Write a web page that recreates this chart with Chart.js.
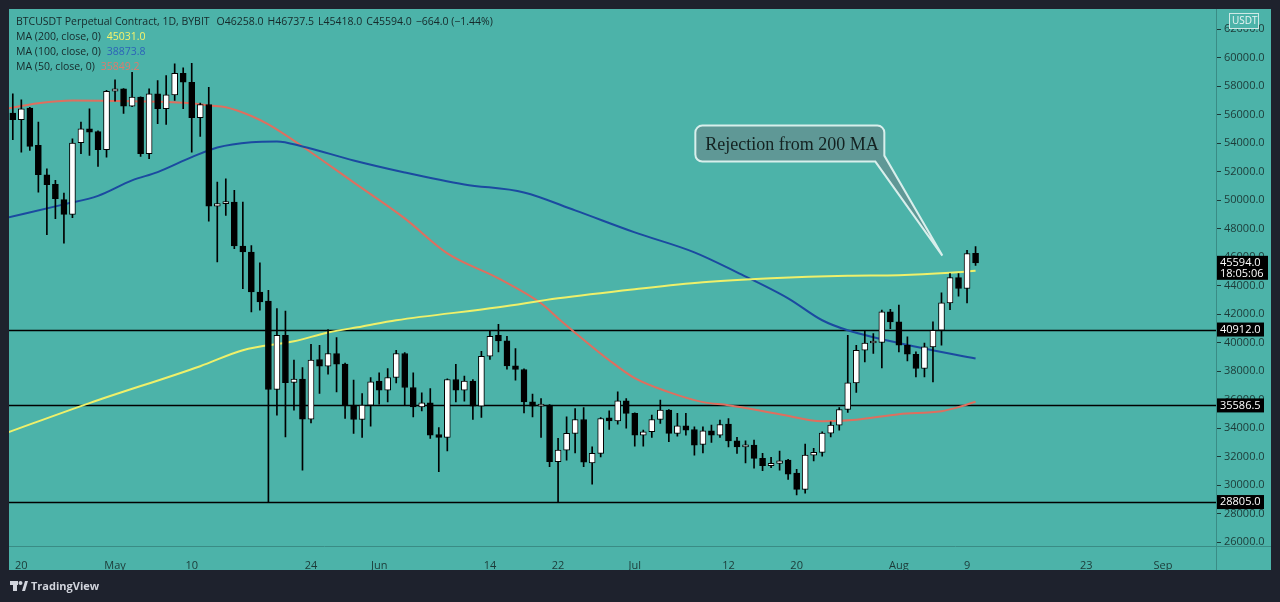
<!DOCTYPE html>
<html>
<head>
<meta charset="utf-8">
<script src="https://cdn.jsdelivr.net/npm/chart.js@4.4.0/dist/chart.umd.min.js"></script>
<style>
  html, body { margin: 0; padding: 0; background: #1e222d; overflow: hidden; }
  #wrap { width: 1280px; height: 602px; }
</style>
</head>
<body>
<div id="wrap"><canvas id="chart" width="1280" height="602"></canvas></div>
<script>
// BTCUSDT perp, daily candles from 2021-04-19 to 2021-08-10
const firstDay = '2021-04-19';

const opens = [
  56095, 55633, 56446, 53832, 51777, 51098, 50025, 48994, 54020, 55002, 54800, 53530,
  57638, 57806, 56586, 57217, 53249, 57455, 56404, 57385, 58900, 58268, 55773, 56705, 49576, 49744, 49856, 46772,
  46352, 43547, 42916, 36702, 40514, 37200, 37428, 34623, 38808, 38339, 39228, 38480, 35605, 34601, 35605,
  37288, 36657, 37546, 39228, 36845, 35488, 35768, 33549, 33339, 37406, 36657, 37288, 35534, 39040, 40514,
  40117, 38364, 38107, 35838, 35535, 35605, 31632, 32451, 33622, 34600, 31560, 32219, 34710, 34500, 35908,
  35025, 33503, 33736, 34600, 35255, 33620, 34155, 33900, 32848, 33800, 33503, 34273, 33100, 32682, 32800,
  31868, 31350, 31520, 31750, 30840, 29700, 32100, 32290, 33640, 34200, 35300, 37170, 39460, 39970, 40000, 42150,
  41450, 39810, 39180, 38180, 39700, 40860, 42780, 44560, 43790, 46258
];
const highs = [
  57455, 57034, 56500, 55465, 52198, 51378, 50487, 54300, 55465, 56404, 54850, 57700,
  58437, 57830, 58970, 57250, 57806, 58388, 58738, 59558, 59278, 59600, 56800, 57918, 51259, 51497, 50677, 49856,
  46800, 45600, 43666, 42384, 42216, 38760, 38248, 39882, 39811, 40912, 40351, 38550, 37358, 36425, 37546,
  37869, 38178, 39461, 39300, 37869, 36472, 36776, 34040, 37450, 38479, 37639, 37406, 39391, 40865, 41283,
  40444, 39579, 38150, 36377, 36075, 35650, 33271, 34786, 35371, 35441, 32686, 34740, 35200, 36539, 36075,
  35070, 33853, 34904, 35955, 35300, 35025, 35025, 34085, 34085, 34200, 34553, 34670, 33342, 33100, 33149,
  32220, 31940, 32380, 31800, 31100, 32870, 32570, 33740, 34430, 35440, 40500, 39810, 40860, 40630, 42270, 42330,
  42620, 40400, 39345, 39970, 41450, 43480, 44840, 44840, 46470, 46737.5
];
const lows = [
  54230, 53362, 53480, 50558, 47571, 48690, 46982, 48760, 53249, 53130, 52359, 53011,
  56937, 56075, 56550, 53060, 52899, 55352, 55303, 56986, 56404, 53362, 54462, 48525, 45650, 48924, 46590, 43786,
  42147, 42264, 28805, 34904, 33384, 35255, 31048, 34366, 36425, 37778, 36537, 34670, 33622, 33342, 34133,
  35675, 35838, 37164, 35605, 34786, 35208, 33272, 30929, 32401, 35838, 35885, 34600, 34740, 38807, 39345,
  38130, 37357, 35067, 34786, 33342, 31282, 28805, 31749, 32261, 31281, 30068, 31981, 33900, 34273, 33992,
  32732, 32732, 33342, 34320, 33038, 33430, 33503, 32100, 32261, 32990, 33342, 32682, 32220, 31560, 31188,
  31000, 31220, 31050, 30400, 29300, 29420, 31700, 32030, 33380, 33850, 35100, 36500, 38640, 39230, 38220, 40980,
  39345, 38710, 37590, 37590, 37240, 39810, 42310, 43250, 42780, 45418
];
const closes = [
  55633, 56404, 53761, 51777, 51076, 50095, 48994, 53992, 55002, 54765, 53530, 57638,
  57806, 56586, 57217, 53249, 57455, 56404, 57385, 58900, 58268, 55773, 56705, 49576, 49744, 49856, 46772, 46352,
  43547, 42846, 36702, 40514, 37183, 37428, 34623, 38760, 38339, 39228, 38480, 35605, 34601, 35605, 37239,
  36657, 37546, 39228, 36845, 35488, 35768, 33502, 33339, 37406, 36657, 37288, 35534, 39040, 40444, 40117,
  38364, 38107, 35838, 35535, 35605, 31632, 32451, 33622, 34600, 31609, 32219, 34670, 34500, 35908, 35025,
  33503, 33736, 34600, 35255, 33620, 34155, 33853, 32801, 33800, 33503, 34250, 33100, 32682, 32800, 31868,
  31350, 31520, 31700, 30770, 29700, 32100, 32290, 33640, 34200, 35300, 37170, 39460, 39970, 40100, 42150, 41450,
  39810, 39180, 38180, 39700, 40860, 42780, 44560, 43790, 46240, 45594
];

// moving averages at a handful of dates
const ma200Dates = ['2021-04-18', '2021-04-28', '2021-05-11', '2021-05-16', '2021-05-22', '2021-05-26', '2021-05-30',
  '2021-06-03', '2021-06-15', '2021-06-22', '2021-07-01', '2021-07-09', '2021-07-17', '2021-07-26', '2021-08-01',
  '2021-08-07', '2021-08-10'];
const ma200Values = [33600, 35750, 38340, 39460, 40090, 40700, 41130, 41560, 42470, 43100, 43740, 44230, 44510,
  44680, 44720, 44890, 45031];

const ma100Dates = ['2021-04-18', '2021-04-25', '2021-04-29', '2021-05-03', '2021-05-06', '2021-05-10', '2021-05-13',
  '2021-05-17', '2021-05-20', '2021-05-23', '2021-05-29', '2021-06-04', '2021-06-11', '2021-06-18', '2021-06-24',
  '2021-07-01', '2021-07-08', '2021-07-13', '2021-07-19', '2021-07-23', '2021-07-26', '2021-08-03', '2021-08-10'];
const ma100Values = [48714, 49695, 50291, 51378, 51960, 53011, 53691, 54062, 54112, 53761, 52780, 51939, 51097,
  50536, 49275, 47733, 46331, 44928, 43106, 41564, 40860, 39706, 38873.8];

const ma50Dates = ['2021-04-18', '2021-04-22', '2021-04-26', '2021-05-03', '2021-05-10', '2021-05-12', '2021-05-14',
  '2021-05-17', '2021-05-19', '2021-05-23', '2021-05-29', '2021-06-04', '2021-06-09', '2021-06-15', '2021-06-20',
  '2021-06-22', '2021-06-28', '2021-07-01', '2021-07-05', '2021-07-09', '2021-07-12', '2021-07-18', '2021-07-23',
  '2021-07-27', '2021-08-01', '2021-08-06', '2021-08-08', '2021-08-10'];
const ma50Values = [56390, 56796, 56986, 56937, 56796, 56635, 56516, 55900, 55303, 53760, 51238, 48714, 46260,
  44508, 42755, 41704, 38760, 37498, 36519, 35818, 35605, 34974, 34484, 34589, 34974, 35185, 35465, 35849.2];

// horizontal support / resistance levels
const levels = [40912.0, 35586.5, 28805.0];

// axis ticks
const priceTicks = [26000, 28000, 30000, 32000, 34000, 36000, 38000, 40000, 42000, 44000, 46000, 48000,
  50000, 52000, 54000, 56000, 58000, 60000, 62000];
const tickDates = ['2021-04-20', '2021-05-01', '2021-05-10', '2021-05-24', '2021-06-01', '2021-06-14', '2021-06-22',
  '2021-07-01', '2021-07-12', '2021-07-20', '2021-08-01', '2021-08-09', '2021-08-23', '2021-09-01'];
const tickLabels = ['20', 'May', '10', '24', 'Jun', '14', '22', 'Jul', '12', '20', 'Aug', '9', '23', 'Sep'];

const TEAL = '#4cb3a9';
const DARK = '#1e222d';
const AXIS_TEXT = '#1c3a37';
const FONT = '"Open Sans", "Noto Sans", sans-serif';

function dayIndex(s) {
  const p = s.split('-').map(Number);
  const q = firstDay.split('-').map(Number);
  return (Date.UTC(p[0], p[1] - 1, p[2]) - Date.UTC(q[0], q[1] - 1, q[2])) / 86400000;
}

const wicks = highs.map((h, i) => ({ x: i, y: [lows[i], h] }));
const bodies = opens.map((o, i) => ({ x: i, y: [Math.min(o, closes[i]), Math.max(o, closes[i])] }));
const bodyColors = opens.map((o, i) => closes[i] >= o ? '#ffffff' : '#000000');
const maPoints = (dates, vals) => dates.map((d, i) => ({ x: dayIndex(d), y: vals[i] }));
const tickLabelMap = new Map(tickDates.map((d, i) => [dayIndex(d), tickLabels[i]]));

const tvPlugin = {
  id: 'tvFrame',
  beforeDraw(chart) {
    const ctx = chart.ctx;
    ctx.save();
    ctx.fillStyle = DARK;
    ctx.fillRect(0, 0, chart.width, chart.height);
    ctx.fillStyle = TEAL;
    ctx.fillRect(9, 9, 1262, 561);
    ctx.restore();
  },
  beforeDatasetsDraw(chart) {
    const { ctx, chartArea: a, scales: { y } } = chart;
    ctx.save();
    ctx.strokeStyle = '#000';
    ctx.lineWidth = 1.6;
    levels.forEach(v => {
      const py = Math.round(y.getPixelForValue(v)) + 0.5;
      ctx.beginPath();
      ctx.moveTo(a.left, py);
      ctx.lineTo(a.right, py);
      ctx.stroke();
    });
    ctx.restore();
  },
  afterDraw(chart) {
    const { ctx, chartArea: a, scales: { x, y } } = chart;
    ctx.save();

    // pane separators
    ctx.strokeStyle = '#3a8c85';
    ctx.lineWidth = 1;
    ctx.beginPath();
    ctx.moveTo(a.right + 0.5, 9);
    ctx.lineTo(a.right + 0.5, 570);
    ctx.moveTo(9, a.bottom + 0.5);
    ctx.lineTo(1271, a.bottom + 0.5);
    ctx.stroke();

    // level labels on the price axis
    ctx.font = '11px ' + FONT;
    ctx.textBaseline = 'middle';
    levels.forEach(v => {
      const py = y.getPixelForValue(v);
      ctx.fillStyle = '#000';
      ctx.fillRect(a.right + 1, py - 7, 47, 14);
      ctx.fillStyle = '#fff';
      ctx.fillText(v.toFixed(1), a.right + 4, py);
    });

    // last price label
    const last = closes[closes.length - 1];
    const lp = y.getPixelForValue(last);
    ctx.fillStyle = '#000';
    ctx.fillRect(a.right + 1, lp - 7, 51, 24);
    ctx.fillStyle = '#fff';
    ctx.fillText(last.toFixed(1), a.right + 4, lp);
    ctx.fillText('18:05:06', a.right + 4, lp + 11);

    // currency box
    ctx.fillStyle = TEAL;
    ctx.fillRect(1229.5, 13.5, 29, 15);
    ctx.strokeStyle = '#cfe9e6';
    ctx.strokeRect(1229.5, 13.5, 29, 15);
    ctx.fillStyle = '#eaf6f5';
    ctx.font = '10px ' + FONT;
    ctx.fillText('USDT', 1232, 21.5);

    // header and legend
    ctx.font = '10.5px ' + FONT;
    ctx.fillStyle = '#16292a';
    let tx = 16;
    const head = ['BTCUSDT Perpetual Contract, 1D, BYBIT', 'O46258.0', 'H46737.5', 'L45418.0', 'C45594.0',
      '\u2212664.0 (\u22121.44%)'];
    head.forEach((t, i) => {
      ctx.fillText(t, tx, 22.5);
      tx += ctx.measureText(t).width + (i === 0 ? 7 : 4);
    });
    const legend = [
      ['MA (200, close, 0)', '45031.0', '#f6f36a'],
      ['MA (100, close, 0)', '38873.8', '#2d64b8'],
      ['MA (50, close, 0)', '35849.2', '#e07a6c']
    ];
    legend.forEach((row, i) => {
      const ly = 37.5 + i * 15;
      ctx.fillStyle = '#16292a';
      ctx.fillText(row[0], 16, ly);
      ctx.fillStyle = row[2];
      ctx.fillText(row[1], 16 + ctx.measureText(row[0]).width + 6, ly);
    });

    // callout
    const tipX = x.getPixelForValue(109.1);
    const tipY = y.getPixelForValue(46100);
    const L = tipX - 247, R = tipX - 58, T = tipY - 130, B = tipY - 94, r = 7;
    ctx.beginPath();
    ctx.moveTo(L + r, T);
    ctx.lineTo(R - r, T);
    ctx.arcTo(R, T, R, T + r, r);
    ctx.lineTo(R, B - 6);
    ctx.lineTo(tipX, tipY);
    ctx.lineTo(R - 9, B);
    ctx.lineTo(L + r, B);
    ctx.arcTo(L, B, L, B - r, r);
    ctx.lineTo(L, T + r);
    ctx.arcTo(L, T, L + r, T, r);
    ctx.closePath();
    ctx.fillStyle = '#5f9896';
    ctx.fill();
    ctx.strokeStyle = '#d8efec';
    ctx.lineWidth = 2;
    ctx.stroke();
    ctx.fillStyle = '#132120';
    ctx.font = '18px "Liberation Serif", "DejaVu Serif", serif';
    ctx.textBaseline = 'alphabetic';
    ctx.fillText('Rejection from 200 MA', L + 10, T + 24);

    // footer logo
    ctx.fillStyle = '#d1d4dc';
    ctx.fillRect(10, 581, 8, 4);
    ctx.fillRect(13, 581, 4, 10);
    ctx.beginPath();
    ctx.arc(20.5, 583, 2, 0, Math.PI * 2);
    ctx.fill();
    ctx.beginPath();
    ctx.moveTo(22, 591);
    ctx.lineTo(25, 581);
    ctx.lineTo(28, 581);
    ctx.lineTo(25, 591);
    ctx.closePath();
    ctx.fill();
    ctx.font = 'bold 11px ' + FONT;
    ctx.textBaseline = 'middle';
    ctx.fillText('TradingView', 31, 586.5);

    ctx.restore();
  }
};

new Chart(document.getElementById('chart'), {
  type: 'bar',
  data: {
    datasets: [
      {
        label: 'wicks',
        data: wicks,
        backgroundColor: '#000',
        barThickness: 1,
        grouped: false,
        order: 1
      },
      {
        label: 'bodies',
        data: bodies,
        backgroundColor: bodyColors,
        borderColor: '#000',
        borderWidth: 1,
        borderSkipped: false,
        barThickness: 6,
        minBarLength: 2,
        grouped: false,
        order: 0
      },
      {
        type: 'line',
        label: 'MA 200',
        data: maPoints(ma200Dates, ma200Values),
        borderColor: '#eef06a',
        borderWidth: 2,
        pointRadius: 0,
        cubicInterpolationMode: 'monotone',
        order: 3
      },
      {
        type: 'line',
        label: 'MA 100',
        data: maPoints(ma100Dates, ma100Values),
        borderColor: '#1b4aa0',
        borderWidth: 2,
        pointRadius: 0,
        cubicInterpolationMode: 'monotone',
        order: 3
      },
      {
        type: 'line',
        label: 'MA 50',
        data: maPoints(ma50Dates, ma50Values),
        borderColor: '#de6f5f',
        borderWidth: 2,
        pointRadius: 0,
        cubicInterpolationMode: 'monotone',
        order: 3
      }
    ]
  },
  options: {
    responsive: false,
    animation: false,
    devicePixelRatio: 1,
    events: [],
    layout: { padding: { left: 9, top: 9, right: 10, bottom: 32 } },
    plugins: { legend: { display: false }, tooltip: { enabled: false } },
    scales: {
      x: {
        type: 'linear',
        offset: false,
        min: -0.446,
        max: 141.22,
        grid: { display: false },
        border: { display: false },
        afterBuildTicks: s => { s.ticks = tickDates.map(d => ({ value: dayIndex(d) })); },
        afterFit: s => { s.height = 24; },
        ticks: {
          autoSkip: false,
          maxRotation: 0,
          padding: 5,
          color: AXIS_TEXT,
          font: { family: FONT, size: 11 },
          callback: v => tickLabelMap.get(v) || ''
        }
      },
      y: {
        position: 'right',
        min: 25721,
        max: 63365,
        grid: { drawOnChartArea: false, drawTicks: true, tickLength: 5, color: AXIS_TEXT },
        border: { display: false },
        afterBuildTicks: s => { s.ticks = priceTicks.map(v => ({ value: v })); },
        afterFit: s => { s.width = 54; },
        ticks: {
          padding: 3,
          color: AXIS_TEXT,
          font: { family: FONT, size: 11 },
          callback: v => Number(v).toFixed(1)
        }
      }
    }
  },
  plugins: [tvPlugin]
});
</script>
</body>
</html>
